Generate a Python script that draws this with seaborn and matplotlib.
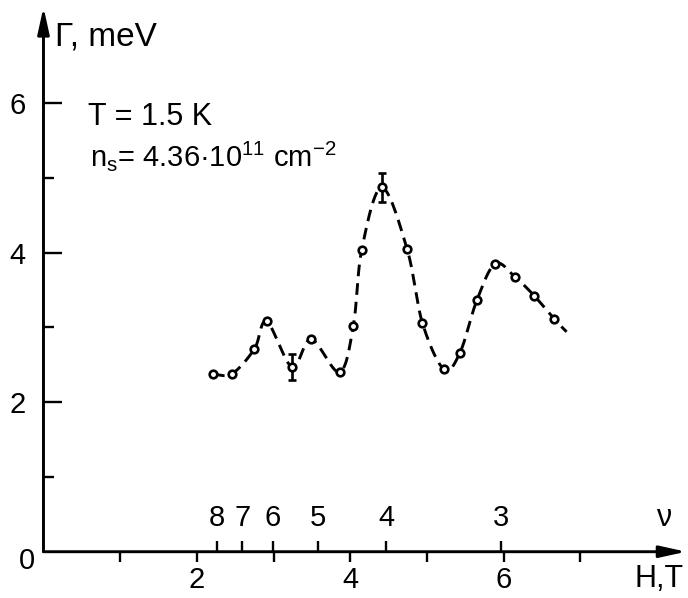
import numpy as np
import pandas as pd
import matplotlib
matplotlib.use("Agg")
import matplotlib.pyplot as plt
import seaborn as sns
from matplotlib import font_manager

# ---- data ----
H = [2.21, 2.46, 2.75, 2.91, 3.24, 3.49, 3.86, 4.04, 4.15, 4.41, 4.74, 4.94,
     5.22, 5.43, 5.65, 5.89, 6.15, 6.40, 6.66]
G = [2.37, 2.38, 2.71, 3.08, 2.47, 2.84, 2.40, 3.02, 4.04, 4.87, 4.05, 3.06,
     2.44, 2.66, 3.36, 3.85, 3.67, 3.42, 3.11]
curve_end_H = [6.82]
curve_end_G = [2.94]
err_H = [3.24, 4.41]
err_G = [2.47, 4.87]
err_val = [0.17, 0.19]
nu_labels = ["8", "7", "6", "5", "4", "3"]
nu_H = [2.26, 2.59, 2.99, 3.58, 4.47, 5.96]
x_major = [1, 2, 3, 4, 5, 6, 7]
x_labels = ["", "2", "", "4", "", "6", ""]
y_major = [2, 4, 6]
y_minor = [1, 3, 5]

sns.set_style("white")
avail = {f.name for f in font_manager.fontManager.ttflist}
fam = "Liberation Sans" if "Liberation Sans" in avail else "DejaVu Sans"
plt.rcParams["font.family"] = [fam, "DejaVu Sans"]
plt.rcParams["mathtext.fontset"] = "custom"
plt.rcParams["mathtext.rm"] = fam
plt.rcParams["mathtext.default"] = "regular"
for k in ["text.color", "xtick.color", "ytick.color", "axes.labelcolor",
          "xtick.labelcolor", "ytick.labelcolor"]:
    plt.rcParams[k] = "black"

fig = plt.figure(figsize=(6.88, 5.98), dpi=100)
ax = fig.add_axes([0.0632, 0.0774, 0.9353, 0.9144])
XMAX, YMAX = 8.39, 7.31
ax.set_xlim(0, XMAX)
ax.set_ylim(0, YMAX)
for s in ax.spines.values():
    s.set_visible(False)

# smooth dashed curve through the points (Catmull-Rom)
px = np.array(H + curve_end_H) * 76.7
py = np.array(G + curve_end_G) * 74.8
P = np.column_stack([px, py])
P = np.vstack([2 * P[0] - P[1], P, 2 * P[-1] - P[-2]])
cx, cy = [], []
t = np.linspace(0, 1, 30, endpoint=False)
for i in range(1, len(P) - 2):
    p0, p1, p2, p3 = P[i - 1], P[i], P[i + 1], P[i + 2]
    m1 = (p2 - p0) / 2
    m2 = (p3 - p1) / 2
    h00 = 2 * t**3 - 3 * t**2 + 1
    h10 = t**3 - 2 * t**2 + t
    h01 = -2 * t**3 + 3 * t**2
    h11 = t**3 - t**2
    seg = (h00[:, None] * p1 + h10[:, None] * m1 + h01[:, None] * p2 + h11[:, None] * m2)
    cx.extend(seg[:, 0]); cy.extend(seg[:, 1])
cx.append(P[-2][0]); cy.append(P[-2][1])
curve = pd.DataFrame({"H": np.array(cx) / 76.7, "G": np.array(cy) / 74.8})
sns.lineplot(data=curve, x="H", y="G", sort=False, estimator=None, ax=ax,
             color="black", linewidth=2.1, linestyle=(0, (4.0, 2.4)))

ax.errorbar(err_H, err_G, yerr=err_val, fmt="none", ecolor="black",
            elinewidth=1.9, capsize=3.2, capthick=1.9, zorder=3)
pts = pd.DataFrame({"H": H, "G": G})
sns.scatterplot(data=pts, x="H", y="G", ax=ax, marker="o", s=30,
                facecolor="white", edgecolor="black", linewidth=1.9, zorder=4)

# axes with arrows
arrow = dict(arrowstyle="-|>,head_length=1.0,head_width=0.22", lw=2.1,
             color="black", shrinkA=0, shrinkB=0, mutation_scale=16)
ax.annotate("", xy=(8.38, 0), xytext=(0, 0), arrowprops=arrow, annotation_clip=False)
ax.annotate("", xy=(0, 7.28), xytext=(0, 0), arrowprops=arrow, annotation_clip=False)

ax.set_xticks(x_major)
ax.set_xticklabels(x_labels)
ax.tick_params(axis="x", which="major", direction="out", length=7.5, width=1.7,
               pad=3, labelsize=21, bottom=True, colors="black")
ax.set_yticks(y_major)
ax.set_yticklabels([str(v) for v in y_major])
ax.set_yticks(y_minor, minor=True)
ax.tick_params(axis="y", which="major", direction="in", length=13.5, width=1.7,
               pad=13, labelsize=21, left=True, colors="black")
ax.tick_params(axis="y", which="minor", direction="in", length=7.7, width=1.7,
               left=True, colors="black")
ax.set_xlabel("")
ax.set_ylabel("")

# filling-factor ticks and labels
ax.vlines(nu_H, 0, 0.14, color="black", lw=1.7)
for h, lab in zip(nu_H, nu_labels):
    ax.text(h, 0.45, lab, ha="center", va="center", fontsize=21)
ax.text(8.09, 0.45, "ν", ha="center", va="center", fontsize=22)
ax.text(8.03, -0.36, "H,T", ha="center", va="center", fontsize=22, clip_on=False)
ax.text(-0.21, -0.13, "0", ha="center", va="center", fontsize=21, clip_on=False)

ax.text(0.15, 6.77, "Γ, meV", ha="left", va="baseline", fontsize=24)
ax.text(0.58, 5.70, "T = 1.5 K", ha="left", va="baseline", fontsize=22)
ax.text(0.61, 5.15, r"$n_s$= 4.36·10$^{11}$ cm$^{-2}$", ha="left", va="baseline",
        fontsize=21)

fig.savefig("out.png", dpi=100)
